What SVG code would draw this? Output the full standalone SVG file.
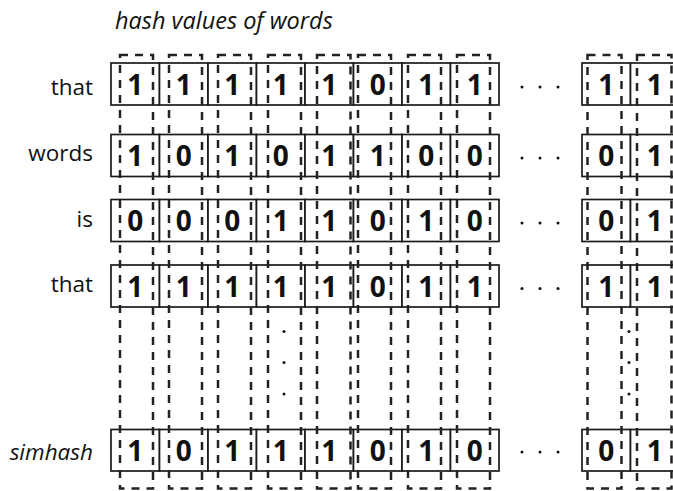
<svg xmlns="http://www.w3.org/2000/svg" width="673" height="491" viewBox="0 0 673 491">
  <style>
    .cell { fill: #ffffff; stroke: #1a1a1a; stroke-width: 1.7; }
    .col { fill: none; stroke: #222; stroke-width: 2.5; stroke-dasharray: 8 7; }
    .bit { font-family: "Open Sans", "Liberation Sans", sans-serif; font-weight: bold; font-size: 28px; fill: #111; text-anchor: middle; }
    .lbl { font-family: "Open Sans", "Liberation Sans", sans-serif; font-size: 22.5px; fill: #111; text-anchor: end; }
    .ital { font-style: italic; }
    .dot { fill: #111; }
  </style>

  <text class="lbl ital" x="115" y="29" style="text-anchor:start; font-size:23.5px">hash values of words</text>

  <!-- word rows: 8 leading bit cells, then the last two -->
  <g id="row-that-1">
    <text class="lbl" x="93" y="95">that</text>
    <rect class="cell" x="111" y="63" width="48.5" height="42"/>
    <rect class="cell" x="159.5" y="63" width="48.5" height="42"/>
    <rect class="cell" x="208" y="63" width="48.5" height="42"/>
    <rect class="cell" x="256.5" y="63" width="48.5" height="42"/>
    <rect class="cell" x="305" y="63" width="48.5" height="42"/>
    <rect class="cell" x="353.5" y="63" width="48.5" height="42"/>
    <rect class="cell" x="402" y="63" width="48.5" height="42"/>
    <rect class="cell" x="450.5" y="63" width="48.5" height="42"/>
    <rect class="cell" x="582" y="63" width="48.5" height="42"/>
    <rect class="cell" x="630.5" y="63" width="48.5" height="42"/>
    <text class="bit" y="94.5"><tspan x="135.3">1</tspan><tspan x="183.8">1</tspan><tspan x="232.3">1</tspan><tspan x="280.8">1</tspan><tspan x="329.3">1</tspan><tspan x="377.8">0</tspan><tspan x="426.3">1</tspan><tspan x="474.8">1</tspan><tspan x="606.3">1</tspan><tspan x="654.8">1</tspan></text>
    <circle class="dot" cx="522" cy="87" r="1.5"/><circle class="dot" cx="540" cy="87" r="1.5"/><circle class="dot" cx="558" cy="87" r="1.5"/>
  </g>

  <g id="row-words">
    <text class="lbl" x="93" y="161">words</text>
    <rect class="cell" x="111" y="134.5" width="48.5" height="42"/>
    <rect class="cell" x="159.5" y="134.5" width="48.5" height="42"/>
    <rect class="cell" x="208" y="134.5" width="48.5" height="42"/>
    <rect class="cell" x="256.5" y="134.5" width="48.5" height="42"/>
    <rect class="cell" x="305" y="134.5" width="48.5" height="42"/>
    <rect class="cell" x="353.5" y="134.5" width="48.5" height="42"/>
    <rect class="cell" x="402" y="134.5" width="48.5" height="42"/>
    <rect class="cell" x="450.5" y="134.5" width="48.5" height="42"/>
    <rect class="cell" x="582" y="134.5" width="48.5" height="42"/>
    <rect class="cell" x="630.5" y="134.5" width="48.5" height="42"/>
    <text class="bit" y="166"><tspan x="135.3">1</tspan><tspan x="183.8">0</tspan><tspan x="232.3">1</tspan><tspan x="280.8">0</tspan><tspan x="329.3">1</tspan><tspan x="377.8">1</tspan><tspan x="426.3">0</tspan><tspan x="474.8">0</tspan><tspan x="606.3">0</tspan><tspan x="654.8">1</tspan></text>
    <circle class="dot" cx="522" cy="158" r="1.5"/><circle class="dot" cx="540" cy="158" r="1.5"/><circle class="dot" cx="558" cy="158" r="1.5"/>
  </g>

  <g id="row-is">
    <text class="lbl" x="93" y="227">is</text>
    <rect class="cell" x="111" y="199.5" width="48.5" height="42"/>
    <rect class="cell" x="159.5" y="199.5" width="48.5" height="42"/>
    <rect class="cell" x="208" y="199.5" width="48.5" height="42"/>
    <rect class="cell" x="256.5" y="199.5" width="48.5" height="42"/>
    <rect class="cell" x="305" y="199.5" width="48.5" height="42"/>
    <rect class="cell" x="353.5" y="199.5" width="48.5" height="42"/>
    <rect class="cell" x="402" y="199.5" width="48.5" height="42"/>
    <rect class="cell" x="450.5" y="199.5" width="48.5" height="42"/>
    <rect class="cell" x="582" y="199.5" width="48.5" height="42"/>
    <rect class="cell" x="630.5" y="199.5" width="48.5" height="42"/>
    <text class="bit" y="231"><tspan x="135.3">0</tspan><tspan x="183.8">0</tspan><tspan x="232.3">0</tspan><tspan x="280.8">1</tspan><tspan x="329.3">1</tspan><tspan x="377.8">0</tspan><tspan x="426.3">1</tspan><tspan x="474.8">0</tspan><tspan x="606.3">0</tspan><tspan x="654.8">1</tspan></text>
    <circle class="dot" cx="522" cy="223" r="1.5"/><circle class="dot" cx="540" cy="223" r="1.5"/><circle class="dot" cx="558" cy="223" r="1.5"/>
  </g>

  <g id="row-that-2">
    <text class="lbl" x="93" y="292">that</text>
    <rect class="cell" x="111" y="265" width="48.5" height="42"/>
    <rect class="cell" x="159.5" y="265" width="48.5" height="42"/>
    <rect class="cell" x="208" y="265" width="48.5" height="42"/>
    <rect class="cell" x="256.5" y="265" width="48.5" height="42"/>
    <rect class="cell" x="305" y="265" width="48.5" height="42"/>
    <rect class="cell" x="353.5" y="265" width="48.5" height="42"/>
    <rect class="cell" x="402" y="265" width="48.5" height="42"/>
    <rect class="cell" x="450.5" y="265" width="48.5" height="42"/>
    <rect class="cell" x="582" y="265" width="48.5" height="42"/>
    <rect class="cell" x="630.5" y="265" width="48.5" height="42"/>
    <text class="bit" y="296.5"><tspan x="135.3">1</tspan><tspan x="183.8">1</tspan><tspan x="232.3">1</tspan><tspan x="280.8">1</tspan><tspan x="329.3">1</tspan><tspan x="377.8">0</tspan><tspan x="426.3">1</tspan><tspan x="474.8">1</tspan><tspan x="606.3">1</tspan><tspan x="654.8">1</tspan></text>
    <circle class="dot" cx="522" cy="288.5" r="1.5"/><circle class="dot" cx="540" cy="288.5" r="1.5"/><circle class="dot" cx="558" cy="288.5" r="1.5"/>
  </g>

  <!-- vertical ellipses between the word rows and the result -->
  <g id="ellipsis">
    <circle class="dot" cx="284" cy="331.5" r="1.5"/><circle class="dot" cx="284" cy="362.5" r="1.5"/><circle class="dot" cx="284" cy="394" r="1.5"/>
    <circle class="dot" cx="629" cy="331.5" r="1.5"/><circle class="dot" cx="629" cy="362.5" r="1.5"/><circle class="dot" cx="629" cy="394" r="1.5"/>
  </g>

  <g id="row-simhash">
    <text class="lbl ital" x="93" y="460">simhash</text>
    <rect class="cell" x="111" y="429.5" width="48.5" height="41.5"/>
    <rect class="cell" x="159.5" y="429.5" width="48.5" height="41.5"/>
    <rect class="cell" x="208" y="429.5" width="48.5" height="41.5"/>
    <rect class="cell" x="256.5" y="429.5" width="48.5" height="41.5"/>
    <rect class="cell" x="305" y="429.5" width="48.5" height="41.5"/>
    <rect class="cell" x="353.5" y="429.5" width="48.5" height="41.5"/>
    <rect class="cell" x="402" y="429.5" width="48.5" height="41.5"/>
    <rect class="cell" x="450.5" y="429.5" width="48.5" height="41.5"/>
    <rect class="cell" x="582" y="429.5" width="48.5" height="41.5"/>
    <rect class="cell" x="630.5" y="429.5" width="48.5" height="41.5"/>
    <text class="bit" y="461"><tspan x="135.3">1</tspan><tspan x="183.8">0</tspan><tspan x="232.3">1</tspan><tspan x="280.8">1</tspan><tspan x="329.3">1</tspan><tspan x="377.8">0</tspan><tspan x="426.3">1</tspan><tspan x="474.8">0</tspan><tspan x="606.3">0</tspan><tspan x="654.8">1</tspan></text>
    <circle class="dot" cx="522" cy="452" r="1.5"/><circle class="dot" cx="540" cy="452" r="1.5"/><circle class="dot" cx="558" cy="452" r="1.5"/>
  </g>

  <!-- dashed bit-position columns spanning all rows -->
  <g id="columns">
    <rect class="col" x="120" y="55" width="33" height="433.5"/>
    <rect class="col" x="169" y="55" width="33" height="433.5"/>
    <rect class="col" x="218" y="55" width="33" height="433.5"/>
    <rect class="col" x="268" y="55" width="33" height="433.5"/>
    <rect class="col" x="317" y="55" width="33.5" height="433.5"/>
    <rect class="col" x="358" y="55" width="33" height="433.5"/>
    <rect class="col" x="408" y="55" width="33" height="433.5"/>
    <rect class="col" x="457" y="55" width="33" height="433.5"/>
    <rect class="col" x="587.5" y="55" width="34" height="433.5"/>
    <rect class="col" x="637" y="55" width="34.5" height="433.5"/>
  </g>
</svg>
